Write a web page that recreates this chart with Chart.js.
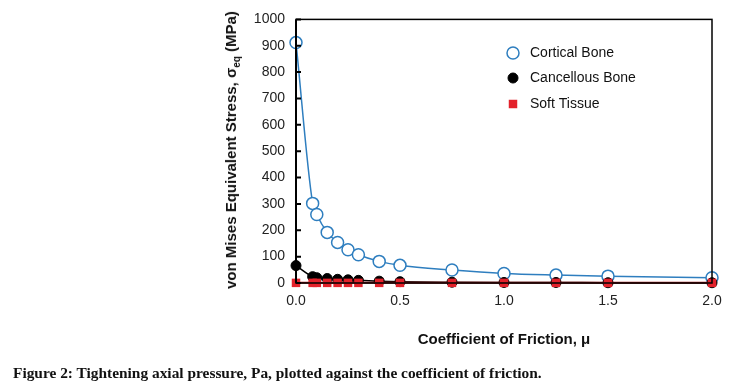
<!DOCTYPE html>
<html>
<head>
<meta charset="utf-8">
<script src="https://cdn.jsdelivr.net/npm/chart.js@4"></script>
<style>
  body { margin: 0; background: #fff; }
  #wrap { position: relative; width: 735px; height: 391px; }
  #yTitle {
    position: absolute; left: 232px; top: 150px;
    transform: translate(-50%, -50%) rotate(-90deg);
    white-space: nowrap; font: bold 15px "Liberation Sans", Arial, sans-serif; color: #111;
  }
  #yTitle sub { font-size: 10px; }
  #caption {
    position: absolute; left: 13px; top: 364px; white-space: nowrap;
    font: bold 15.4px "Liberation Serif", serif; color: #111;
  }
</style>
</head>
<body>
<div id="wrap">
  <canvas id="chart" width="735" height="391"></canvas>
  <div id="yTitle">von Mises Equivalent Stress, σ<sub>eq</sub> (MPa)</div>
  <div id="caption">Figure 2: Tightening axial pressure, Pa, plotted against the coefficient of friction.</div>
</div>
<script>
// coefficient of friction
const friction = [0, 0.08, 0.1, 0.15, 0.2, 0.25, 0.3, 0.4, 0.5, 0.75, 1.0, 1.25, 1.5, 2.0];
// von Mises stress (MPa)
const cortical = [912, 302, 260, 192, 154, 126, 107, 82, 67, 49, 36, 30, 26, 20];
const cancellous = [66, 24, 20, 17, 14, 12, 10, 7, 5, 3, 2, 2, 1, 1];
const softTissue = [0.5, 0.5, 0.5, 0.5, 0.5, 0.5, 0.5, 0.5, 0.5, 0.5, 0.5, 0.5, 0.5, 0.5];
const xTicks = [0, 0.5, 1.0, 1.5, 2.0];
const seriesNames = ['Cortical Bone', 'Cancellous Bone', 'Soft Tissue'];

const pts = arr => friction.map((x, i) => ({ x: x, y: arr[i] }));

// box frame + inside tick marks on the y axis
const framePlugin = {
  id: 'frame',
  afterDatasetsDraw(chart) {
    const { ctx, chartArea: a, scales } = chart;
    ctx.save();
    ctx.strokeStyle = '#000';
    ctx.lineWidth = 1.5;
    ctx.strokeRect(a.left, a.top, a.right - a.left, a.bottom - a.top);
    ctx.lineWidth = 2;
    ctx.beginPath();
    ctx.moveTo(a.left, a.top);
    ctx.lineTo(a.left, a.bottom);
    scales.y.ticks.forEach(t => {
      const py = scales.y.getPixelForValue(t.value);
      ctx.moveTo(a.left, py);
      ctx.lineTo(a.left + 5, py);
    });
    ctx.stroke();
    ctx.restore();
  }
};

// legend inside the plot, upper right
const legendPlugin = {
  id: 'innerLegend',
  afterDraw(chart) {
    const { ctx } = chart;
    const lx = 513, ly = [53, 78, 104];
    ctx.save();
    ctx.font = '14px "Liberation Sans", Arial, sans-serif';
    ctx.textBaseline = 'middle';
    chart.data.datasets.forEach((ds, i) => {
      ctx.fillStyle = ds.pointBackgroundColor;
      ctx.strokeStyle = ds.pointBorderColor;
      ctx.lineWidth = ds.pointBorderWidth;
      ctx.beginPath();
      if (ds.pointStyle === 'rect') {
        const s = Math.SQRT1_2 * ds.pointRadius;
        ctx.rect(lx - s, ly[i] - s, 2 * s, 2 * s);
        ctx.fill();
      } else {
        ctx.arc(lx, ly[i], ds.pointRadius, 0, Math.PI * 2);
        ctx.fill();
        ctx.stroke();
      }
      ctx.fillStyle = '#111';
      ctx.fillText(seriesNames[i], lx + 17, ly[i]);
    });
    ctx.restore();
  }
};

new Chart(document.getElementById('chart'), {
  type: 'scatter',
  data: {
    datasets: [
      {
        label: seriesNames[0], data: pts(cortical), showLine: true, order: 2,
        borderColor: '#2e7ebf', borderWidth: 1.5, cubicInterpolationMode: 'monotone',
        pointStyle: 'circle', pointRadius: 6, pointBorderWidth: 1.5,
        pointBackgroundColor: '#fff', pointBorderColor: '#2e7ebf', clip: false
      },
      {
        label: seriesNames[1], data: pts(cancellous), showLine: true, order: 1,
        borderColor: '#000', borderWidth: 1.5, cubicInterpolationMode: 'monotone',
        pointStyle: 'circle', pointRadius: 5, pointBorderWidth: 1,
        pointBackgroundColor: '#000', pointBorderColor: '#000', clip: false
      },
      {
        label: seriesNames[2], data: pts(softTissue), showLine: true, order: 0,
        borderColor: '#a01010', borderWidth: 2,
        pointStyle: 'rect', pointRadius: 6, pointBorderWidth: 0,
        pointBackgroundColor: '#e3222b', pointBorderColor: '#e3222b', clip: false
      }
    ]
  },
  options: {
    responsive: false,
    animation: false,
    layout: { padding: { left: 0, top: 16, right: 23, bottom: 38 } },
    plugins: {
      legend: { display: false },
      tooltip: { enabled: false }
    },
    scales: {
      x: {
        type: 'linear', min: 0, max: 2,
        afterBuildTicks: s => { s.ticks = xTicks.map(v => ({ value: v })); },
        afterFit: s => { s.height = 70; },
        grid: { display: false, drawTicks: false },
        border: { display: false },
        ticks: {
          padding: 10, color: '#222',
          font: { family: '"Liberation Sans", Arial, sans-serif', size: 14 },
          callback: v => v.toFixed(1)
        },
        title: {
          display: true, text: 'Coefficient of Friction, μ', color: '#111',
          font: { family: '"Liberation Sans", Arial, sans-serif', size: 15, weight: 'bold' },
          padding: { top: 4, bottom: 4 }
        }
      },
      y: {
        min: 0, max: 1000,
        afterFit: s => { s.width = 296; },
        grid: { display: false, drawTicks: false },
        border: { display: false },
        ticks: {
          stepSize: 100, padding: 11, color: '#222',
          font: { family: '"Liberation Sans", Arial, sans-serif', size: 14 },
          callback: v => String(v)
        }
      }
    }
  },
  plugins: [framePlugin, legendPlugin]
});
</script>
</body>
</html>
